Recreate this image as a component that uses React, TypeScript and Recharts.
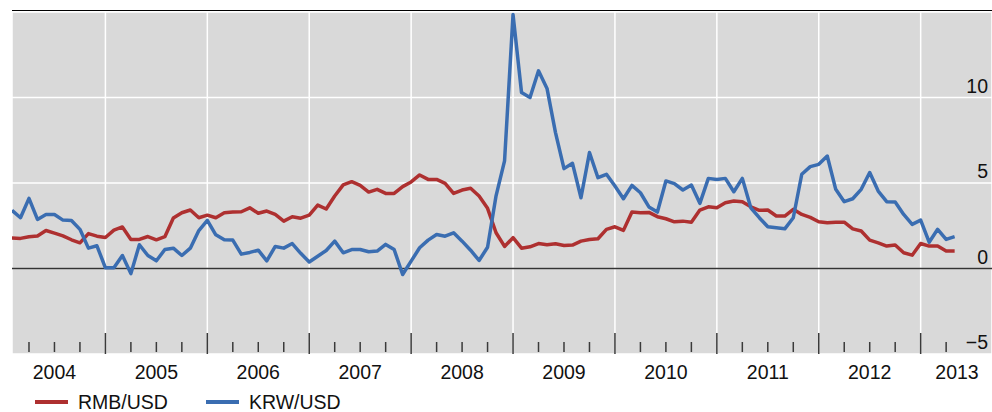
import { LineChart, Line, XAxis, YAxis, CartesianGrid, ReferenceLine, Legend } from "recharts";

// monthly values, Feb 2004 .. May 2013
const rmb = [
  1.78, 1.76, 1.86, 1.9, 2.22, 2.07, 1.91, 1.68, 1.5, 2.04, 1.89, 1.81,
  2.24, 2.43, 1.7, 1.7, 1.87, 1.68, 1.86, 2.95, 3.26, 3.42, 2.97, 3.12,
  2.97, 3.26, 3.3, 3.32, 3.55, 3.23, 3.36, 3.16, 2.77, 3.03, 2.94, 3.12,
  3.71, 3.48, 4.24, 4.89, 5.08, 4.86, 4.47, 4.63, 4.39, 4.39, 4.79, 5.06,
  5.47, 5.21, 5.21, 4.98, 4.39, 4.59, 4.69, 4.24, 3.52, 2.09, 1.29, 1.8,
  1.19, 1.27, 1.46, 1.39, 1.45, 1.35, 1.37, 1.6, 1.7, 1.74, 2.29, 2.44,
  2.23, 3.3, 3.26, 3.28, 3.03, 2.91, 2.73, 2.77, 2.71, 3.42, 3.61, 3.55,
  3.85, 3.95, 3.91, 3.61, 3.4, 3.42, 3.07, 3.07, 3.46, 3.16, 2.99, 2.73,
  2.68, 2.71, 2.71, 2.32, 2.19, 1.66, 1.5, 1.31, 1.37, 0.92, 0.78, 1.46,
  1.31, 1.31, 1.02, 1.02,
];

const krw = [
  3.4, 2.97, 4.1, 2.87, 3.16, 3.16, 2.83, 2.81, 2.29, 1.19, 1.33, 0.04,
  0.04, 0.76, -0.3, 1.39, 0.76, 0.45, 1.11, 1.19, 0.76, 1.19, 2.22, 2.81,
  1.97, 1.68, 1.66, 0.84, 0.94, 1.07, 0.45, 1.29, 1.19, 1.46, 0.89, 0.38,
  0.72, 1.05, 1.6, 0.92, 1.11, 1.11, 0.98, 1.02, 1.41, 1.11, -0.35, 0.43,
  1.21, 1.66, 1.99, 1.89, 2.09, 1.6, 1.07, 0.47, 1.24, 4.25, 6.29, 14.85,
  10.29, 10.0, 11.56, 10.53, 7.95, 5.84, 6.15, 4.14, 6.78, 5.31, 5.51, 4.82,
  4.08, 4.86, 4.43, 3.6, 3.3, 5.12, 4.96, 4.59, 4.88, 3.81, 5.27, 5.21,
  5.27, 4.49, 5.27, 3.55, 2.97, 2.44, 2.38, 2.32, 2.97, 5.51, 5.96, 6.09,
  6.58, 4.63, 3.91, 4.08, 4.63, 5.61, 4.53, 3.91, 3.89, 3.16, 2.58, 2.83,
  1.54, 2.29, 1.7, 1.86,
];

const years = ["2004", "2005", "2006", "2007", "2008", "2009", "2010", "2011", "2012", "2013"];
const yTicks = [-5, 0, 5, 10, 15];

const W = 992;
const H = 412;
const RED = "#ae3030";
const BLUE = "#3a6db1";
const FONT = "'Liberation Sans', Arial, sans-serif";
const TICK = "#3a3a3a";

// x = months since Jan 2004
const data = rmb.map((v, i) => ({ t: i + 1, rmb: v, krw: krw[i] }));
const yearTicks = years.slice(1).map((_, i) => (i + 1) * 12);
const quarterTicks = years.flatMap((_, i) => [3, 6, 9].map((q) => i * 12 + q)).filter((t) => t <= rmb.length);
const labelTicks = years.map((_, i) => i * 12 + 6);

const fmtY = (v: number) => (v < 0 ? "\u2212" + Math.abs(v) : String(v));

function mark(len: number) {
  return (p: any) => (
    <line x1={p.x} x2={p.x} y1={p.y} y2={p.y - len} stroke={TICK} strokeWidth={1.5} />
  );
}

function YearLabel(p: any) {
  const i = labelTicks.indexOf(p.payload.value);
  return (
    <text x={Math.min(p.x, W - 35)} y={p.y + 25} textAnchor="middle" fontSize={19.5} fontFamily={FONT} fill="#111">
      {years[i]}
    </text>
  );
}

function YLabel(p: any) {
  if (p.payload.value >= 15) return <g />;
  return (
    <text x={p.x - 4} y={p.y - 5} textAnchor="end" fontSize={19.5} fontFamily={FONT} fill="#111">
      {fmtY(p.payload.value)}
    </text>
  );
}

function LegendBox() {
  const items = [
    { name: "RMB/USD", color: RED },
    { name: "KRW/USD", color: BLUE },
  ];
  return (
    <div style={{ height: 22, display: "flex", paddingLeft: 35, fontFamily: FONT, fontSize: 19.5, color: "#111" }}>
      {items.map((it) => (
        <div key={it.name} style={{ display: "flex", alignItems: "center", marginRight: 38, position: "relative", top: 1 }}>
          <span style={{ width: 33, height: 4, background: it.color, marginRight: 10, display: "inline-block" }} />
          <span style={{ lineHeight: "22px" }}>{it.name}</span>
        </div>
      ))}
    </div>
  );
}

export default function App() {
  return (
    <div style={{ position: "absolute", left: 0, top: 0, width: W, height: H, background: "#fff" }}>
      <div style={{ position: "absolute", left: 12, top: 9.5, width: W - 12, height: 1.5, background: "#000" }} />
      <LineChart width={W} height={H} data={data} margin={{ top: 12, right: 0, left: 12, bottom: 0 }}>
        <CartesianGrid fill="#d9d9d9" stroke="#ffffff" strokeWidth={1.5} />
        <XAxis
          dataKey="t"
          type="number"
          domain={[1, 116.4]}
          ticks={yearTicks}
          interval={0}
          height={2}
          mirror
          axisLine={false}
          tickLine={false}
          tickSize={0}
          tickMargin={0}
          tick={mark(21)}
          allowDataOverflow
        />
        <XAxis
          xAxisId="q"
          dataKey="t"
          type="number"
          domain={[1, 116.4]}
          ticks={quarterTicks}
          interval={0}
          height={2}
          mirror
          axisLine={false}
          tickLine={false}
          tickSize={0}
          tickMargin={0}
          tick={mark(10)}
          allowDataOverflow
        />
        <XAxis
          xAxisId="lbl"
          dataKey="t"
          type="number"
          domain={[1, 116.4]}
          ticks={labelTicks}
          interval={0}
          height={36}
          axisLine={false}
          tickLine={false}
          tickSize={0}
          tickMargin={0}
          tick={<YearLabel />}
          allowDataOverflow
        />
        <YAxis
          orientation="right"
          domain={[-5, 15]}
          ticks={yTicks}
          interval={0}
          width={2}
          mirror
          axisLine={false}
          tickLine={false}
          tickSize={0}
          tickMargin={0}
          tick={<YLabel />}
          allowDataOverflow
        />
        <ReferenceLine y={0} stroke="#333" strokeWidth={1.5} />
        <Line
          dataKey="rmb"
          name="RMB/USD"
          stroke={RED}
          strokeWidth={3.5}
          strokeLinejoin="round"
          dot={false}
          isAnimationActive={false}
        />
        <Line
          dataKey="krw"
          name="KRW/USD"
          stroke={BLUE}
          strokeWidth={3.5}
          strokeLinejoin="round"
          dot={false}
          isAnimationActive={false}
        />
        <Legend verticalAlign="bottom" content={<LegendBox />} wrapperStyle={{ left: 0, width: W, bottom: 0 }} />
      </LineChart>
    </div>
  );
}
